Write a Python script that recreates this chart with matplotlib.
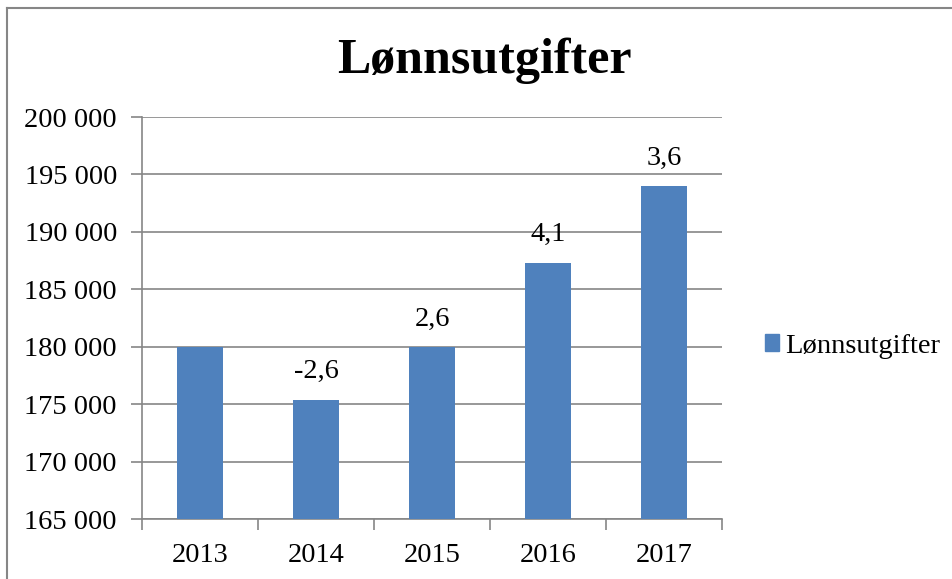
import matplotlib
matplotlib.use("Agg")
import matplotlib.pyplot as plt
from matplotlib.ticker import FuncFormatter, MultipleLocator
from matplotlib.patches import Rectangle
from matplotlib.lines import Line2D

years = ["2013", "2014", "2015", "2016", "2017"]
values = [180000, 175400, 180000, 187330, 193950]
pct_labels = ["", "-2,6", "2,6", "4,1", "3,6"]
series_name = "Lønnsutgifter"
title = "Lønnsutgifter"

plt.rcParams['font.family'] = ['Liberation Serif', 'DejaVu Serif']

fig = plt.figure(figsize=(9.53, 5.79), dpi=100)
ax = fig.add_axes([142/953, 60/579, 580/953, 402/579])

bar_color = "#4F81BD"
grid_color = "#868686"
x = list(range(len(years)))
bars = ax.bar(x, values, width=0.4, color=bar_color, zorder=3, label=series_name)

ax.set_xlim(-0.5, len(years) - 0.5)
ax.set_ylim(165000, 200000)
ax.yaxis.set_major_locator(MultipleLocator(5000))
ax.yaxis.set_major_formatter(FuncFormatter(lambda v, p: f"{int(v):,}".replace(",", " ")))
ax.grid(axis='y', color=grid_color, linewidth=1.2, zorder=0)

ax.set_xticks(x)
ax.set_xticklabels(years)
ax.set_xticks([i - 0.5 for i in range(len(years) + 1)], minor=True)
ax.tick_params(axis='x', which='major', length=0, labelsize=20.5, pad=17)
ax.tick_params(axis='x', which='minor', length=8, width=1.2, color=grid_color, direction='out')
ax.tick_params(axis='y', which='major', length=8, width=1.2, color=grid_color, labelsize=20.5, pad=10)

for s in ['top', 'right']:
    ax.spines[s].set_visible(False)
for s in ['left', 'bottom']:
    ax.spines[s].set_color(grid_color)
    ax.spines[s].set_linewidth(1.2)

for b, lab in zip(bars, pct_labels):
    if lab:
        ax.annotate(lab, (b.get_x() + b.get_width() / 2, b.get_height()),
                    xytext=(0, 11), textcoords='offset points',
                    ha='center', va='bottom', fontsize=20.5)

fig.text(484/953, 1 - 73/579, title, ha='center', va='baseline', fontsize=36, fontweight='bold')

leg = ax.legend(handles=[Rectangle((0, 0), 1, 1, color=bar_color)], labels=[series_name],
                loc='center left', bbox_to_anchor=(1.03, 0.43), frameon=False,
                fontsize=20.5, handlelength=0.5, handleheight=0.5, handletextpad=0.2)

# outer frame lines (top and left)
fig.add_artist(Line2D([7/953, 7/953], [0, 1 - 8/579], transform=fig.transFigure, color=grid_color, lw=1.5))
fig.add_artist(Line2D([7/953, 1], [1 - 8/579, 1 - 8/579], transform=fig.transFigure, color=grid_color, lw=1.5))

fig.savefig("out.png", dpi=100)
